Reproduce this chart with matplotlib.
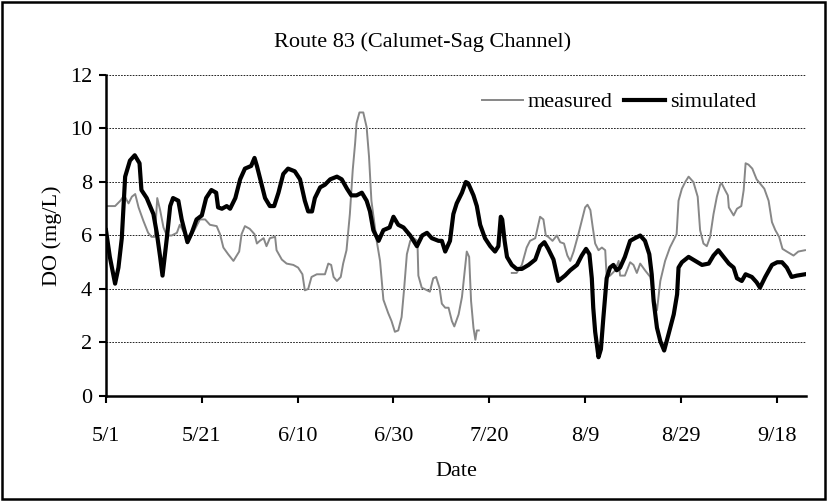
import numpy as np
import matplotlib
matplotlib.use("Agg")
import matplotlib.pyplot as plt
from matplotlib.patches import Rectangle

# days counted from 5/1
sim_day = [0, 0.8, 1.9, 2.6, 3.3, 4, 5, 6, 7, 7.4, 8.5, 9.9, 10.6, 11.3, 11.8, 12.7,
           13.4, 14, 15.1, 15.8, 17, 17.9, 18.9, 20, 20.9, 22, 23, 23.4, 24.2, 25.2,
           25.9, 27, 28, 29, 30.3, 31, 31.5, 32.5, 33.2, 34.2, 35.1, 36, 37, 38, 39.4,
           40.5, 41.5, 42.2, 43, 43.6, 44.7, 45.7, 46.8, 48.2, 49.2, 50.3, 51.2, 52.3,
           53.4, 54.4, 55.1, 55.8, 56.9, 57.9, 59.2, 60, 61, 62.1, 63.5, 64.9, 66, 67,
           68, 69.4, 70.1, 70.8, 71.8, 72.5, 73.2, 74.3, 75.1, 75.6, 76.7, 77.4, 78.1,
           79.1, 80.2, 81.2, 81.9, 82.4, 82.7, 83.2, 83.7, 84.7, 85.7, 86.8, 88.2, 89.6,
           90.6, 91.5, 92.3, 93.4, 94.4, 95.8, 96.9, 98.3, 99.3, 100.2, 100.9, 101.4,
           101.7, 102.1, 102.8, 103.3, 103.8, 104.5, 105.2, 105.9, 106.6, 107.3, 108.3,
           109.4, 110.4, 111.5, 112.5, 113.4, 113.9, 114.3, 115, 115.7, 116.5, 117.4,
           118.5, 119.2, 119.5, 120.2, 121.6, 123, 124.4, 125.8, 126.8, 127.8, 128.9,
           130, 131, 131.7, 132.7, 133.5, 134.8, 135.8, 136.5, 137.6, 139, 140.1, 141.1,
           142.1, 143.1, 144.2, 145.9]
sim_do = [6.2, 5.2, 4.2, 4.8, 5.9, 8.2, 8.8, 9.0, 8.7, 7.7, 7.4, 6.8, 6.1, 5.2, 4.5, 5.9,
          7.1, 7.4, 7.3, 6.6, 5.75, 6.1, 6.6, 6.75, 7.4, 7.7, 7.6, 7.05, 7.0, 7.1,
          7.0, 7.4, 8.1, 8.5, 8.6, 8.9, 8.6, 7.9, 7.4, 7.1, 7.1, 7.6, 8.3, 8.5, 8.4,
          8.1, 7.3, 6.9, 6.9, 7.4, 7.8, 7.9, 8.1, 8.2, 8.1, 7.75, 7.5, 7.5,
          7.6, 7.3, 6.9, 6.2, 5.8, 6.2, 6.3, 6.7, 6.4, 6.3, 6.0, 5.6, 6.0, 6.1,
          5.9, 5.8, 5.8, 5.4, 5.8, 6.8, 7.2, 7.6, 8.0, 7.95, 7.5, 7.1, 6.4,
          5.9, 5.6, 5.4, 5.6, 6.7, 6.6, 5.8, 5.2, 4.9, 4.75, 4.75, 4.9, 5.1,
          5.6, 5.75, 5.5, 5.1, 4.3, 4.5, 4.7, 4.9, 5.25, 5.5, 5.3, 4.4,
          3.3, 2.4, 1.45, 1.75, 2.9, 4.4, 4.8, 4.9, 4.7, 4.8, 5.2,
          5.8, 5.9, 6.0, 5.8, 5.3, 4.55, 3.55, 2.55, 2.05, 1.7, 2.3,
          3.05, 3.8, 4.8, 5.0, 5.2, 5.05, 4.9, 4.95, 5.25, 5.45, 5.2,
          4.95, 4.8, 4.4, 4.3, 4.55, 4.45, 4.25, 4.05, 4.45, 4.9, 5.0, 5.0,
          4.8, 4.45, 4.5, 4.55]

# measured record has a gap in late July (nan breaks the line)
meas_day = [0, 1.9, 3, 3.8, 4.7, 5.4, 6.1, 6.8, 7.8, 8.8, 9.5, 10.2, 10.7, 11.3, 12, 12.7,
            13.7, 14.8, 15.4, 16.5, 17.5, 18.6, 19.6, 20.7, 21.7, 23.1, 23.8, 24.5,
            25.5, 26.6, 27.8, 28.3, 29, 30, 31, 31.5, 32.1, 32.9, 33.5, 34.2, 35.3,
            35.6, 36.7, 37.7, 39.1, 40.1, 41, 41.5, 42.2, 42.9, 44, 45.7, 46.4, 47,
            47.5, 48.2, 49, 49.5, 50.2, 50.9, 51.5, 52, 52.3, 52.9, 53.7, 54.4, 54.9,
            55.4, 56.5, 57.2, 57.9, 58.9, 59.6, 60.3, 61, 61.7, 62.2, 62.8, 63.5, 64.2,
            65, 65.2, 65.9, 67, 67.6, 68.3, 68.9, 69.6, 70.1, 70.8, 71.5, 72.2, 72.7,
            73.6, 74.3, 74.8, 75.3, 75.8, 76.2, 76.7, 77.1, 77.4, 77.8, 81,
            84.7, 85.7, 86.8, 87.8, 88.5, 89.6, 90.1, 90.6, 91.3, 91.8, 92.3, 93.2, 94.1,
            94.8, 95.6, 96.3, 96.9, 97.6, 98.6, 99.3, 100, 100.5, 101.1, 101.6, 102.1,
            102.8, 103.5, 104.2, 104.5, 105.2, 106.3, 107, 107.3, 108.3, 109.4, 110.1,
            110.8, 111.5, 112.5, 113.6, 114.3, 115, 115.7, 116.7, 117.7, 118.4, 119.1,
            119.5, 120.2, 120.9, 121.6, 122.6, 123.5, 124, 124.7, 125.4, 126.1, 126.8,
            127.5, 128.2, 128.5, 129.2, 129.8, 130, 131, 131.7, 132.6, 133.1, 133.5,
            134.1, 134.9, 135.8, 136.7, 137.4, 138.3, 139, 139.7, 140.5, 141.2, 142.1,
            143.5, 144.5, 145.9]
meas_do = [7.1, 7.1, 7.3, 7.5, 7.2, 7.45, 7.55, 7.05, 6.55, 6.1, 5.95, 5.95, 7.4, 6.95, 6.3, 6.0,
           6.0, 6.1, 6.4, 6.05, 5.9, 6.25, 6.6, 6.6, 6.4, 6.35, 6.05, 5.55,
           5.3, 5.05, 5.4, 6.05, 6.35, 6.25, 6.05, 5.7, 5.8, 5.9, 5.6, 5.9, 5.95,
           5.45, 5.1, 4.95, 4.9, 4.8, 4.55, 3.95, 4.0, 4.45, 4.55, 4.55, 4.95, 4.9,
           4.45, 4.3, 4.45, 4.95, 5.45, 6.8, 8.45, 9.45, 10.2, 10.6, 10.6, 10.05, 8.95,
           7.3, 5.8, 5.05, 3.6, 3.1, 2.8, 2.4, 2.45, 2.95, 3.95, 5.3, 5.8, 5.9,
           5.8, 4.5, 4.05, 3.95, 3.9, 4.4, 4.45, 4.05, 3.45, 3.3, 3.3, 2.8, 2.6,
           3.05, 3.7, 4.55, 5.4, 5.2, 3.55, 2.55, 2.1, 2.45, 2.45, np.nan,
           4.6, 4.6, 4.9, 5.55, 5.8, 5.9, 6.3, 6.7, 6.6, 6.0, 5.95, 5.8, 6.0,
           5.75, 5.7, 5.25, 5.05, 5.4, 6.05, 6.55, 7.05, 7.15, 6.95, 6.3, 5.7,
           5.45, 5.55, 5.45, 4.45, 4.5, 4.7, 5.05, 4.5, 4.5, 5.0, 4.9,
           4.6, 4.95, 4.7, 4.45, 3.7, 3.2, 4.3, 5.05, 5.55, 5.8, 6.05,
           7.3, 7.75, 8.0, 8.2, 8.0, 7.45, 6.2, 5.7, 5.6, 5.95, 6.8,
           7.45, 7.9, 7.95, 7.7, 7.5, 7.05, 6.75, 7.0, 7.1, 7.7, 8.7,
           8.65, 8.5, 8.1, 7.9, 7.75, 7.3, 6.5, 6.2, 5.95, 5.5, 5.4,
           5.25, 5.4, 5.45]

tick_days = [0, 20, 40, 60, 80, 100, 120, 140]
tick_labels = ["5/1", "5/21", "6/10", "6/30", "7/20", "8/9", "8/29", "9/18"]

plt.rcParams["font.family"] = ["Liberation Serif", "DejaVu Serif"]
FS = 16

fig = plt.figure(figsize=(8.28, 5.01), dpi=100)
ax = fig.add_axes([0.128, 0.2096, 0.8454, 0.6407])

ax.plot(meas_day, meas_do, color="#878787", linewidth=1.4, label="measured")
ax.plot(sim_day, sim_do, color="black", linewidth=3.0, label="simulated")

ax.set_xlim(0, 146.1)
ax.set_ylim(0, 12)
ax.set_yticks(range(0, 13, 2))
ax.set_xticks(tick_days)
ax.set_xticklabels(tick_labels)
ax.yaxis.grid(True, color="black", linestyle=(0, (2, 1.5)), linewidth=0.6)
ax.set_axisbelow(True)

for side in ("top", "right"):
    ax.spines[side].set_visible(False)
for side in ("left", "bottom"):
    ax.spines[side].set_linewidth(1.8)
ax.tick_params(axis="both", direction="out", length=5, width=1.5, labelsize=FS)
ax.tick_params(axis="x", pad=17)
ax.tick_params(axis="y", pad=5)

ax.set_xlabel("Date", fontsize=FS, labelpad=12)
ax.set_ylabel("DO (mg/L)", fontsize=FS, labelpad=6)
fig.text(0.51, 0.916, "Route 83 (Calumet-Sag Channel)", ha="center", va="center",
         fontsize=FS)

ax.legend(loc="center left", bbox_to_anchor=(482 / 828, 1 - 102 / 501),
          bbox_transform=fig.transFigure, ncol=2, frameon=False, fontsize=FS,
          handlelength=1.85, columnspacing=0.5, handletextpad=0.22,
          borderpad=0, borderaxespad=0)

# chart frame
fig.patches.append(Rectangle((0.003, 0.004), 0.993, 0.992, transform=fig.transFigure,
                             fill=False, edgecolor="black", linewidth=1.8))

fig.savefig("out.png", dpi=100)
